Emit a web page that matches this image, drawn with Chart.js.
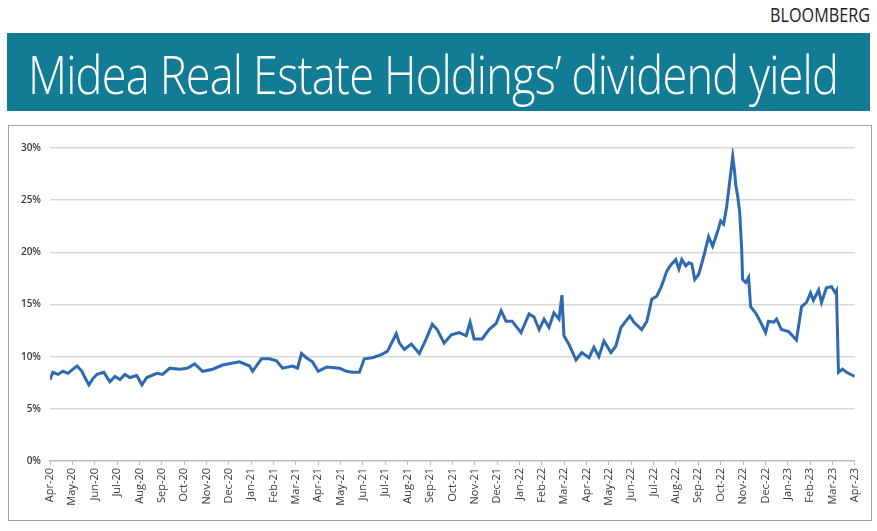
<!DOCTYPE html>
<html lang="en">
<head>
  <meta charset="UTF-8" />
  <title>Midea Real Estate Holdings' dividend yield</title>
  <script src="https://cdn.jsdelivr.net/npm/chart.js"></script>
  <style>
    body {
      margin: 0;
      width: 877px;
      height: 531px;
      background: #fff;
      position: relative;
      overflow: hidden;
      font-family: 'Open Sans', sans-serif;
    }

    .fit {
      position: absolute;
      white-space: nowrap;
      transform-origin: 0 0;
    }

    #source {
      top: 1px;
      left: 770px;
      font-size: 19.5px;
      color: #222;
    }

    #banner {
      position: absolute;
      left: 7px;
      top: 33px;
      width: 863px;
      height: 78px;
      background: #137c95;
    }

    #title {
      top: 36px;
      left: 28px;
      font-size: 54px;
      font-weight: 300;
      color: #fff;
      letter-spacing: -1px;
    }

    #box {
      position: absolute;
      left: 8px;
      top: 125px;
      width: 862px;
      height: 394px;
      border: 1.5px solid #a0a0a0;
    }
  </style>
</head>
<body>
  <div id="source" class="fit" data-w="100">BLOOMBERG</div>
  <div id="banner"></div>
  <div id="title" class="fit" data-w="810">Midea Real Estate Holdings’ dividend yield</div>

  <div id="box">
    <canvas id="yieldChart" width="862" height="394"></canvas>
  </div>

  <script>
    // tick labels, one per month starting Apr-20
    const monthLabels = [
      'Apr-20', 'May-20', 'Jun-20', 'Jul-20', 'Aug-20', 'Sep-20', 'Oct-20', 'Nov-20', 'Dec-20',
      'Jan-21', 'Feb-21', 'Mar-21', 'Apr-21', 'May-21', 'Jun-21', 'Jul-21', 'Aug-21', 'Sep-21',
      'Oct-21', 'Nov-21', 'Dec-21', 'Jan-22', 'Feb-22', 'Mar-22', 'Apr-22', 'May-22', 'Jun-22',
      'Jul-22', 'Aug-22', 'Sep-22', 'Oct-22', 'Nov-22', 'Dec-22', 'Jan-23', 'Feb-23', 'Mar-23', 'Apr-23'
    ];

    // time of each reading, in months since the start of Apr-20
    const yieldMonths = [
      0.00, 0.13, 0.36, 0.58, 0.80, 1.03, 1.21, 1.43, 1.56, 1.74, 1.92, 2.10, 2.41, 2.68, 2.90,
      3.13, 3.35, 3.57, 3.88, 4.11, 4.33, 4.78, 5.04, 5.36, 5.80, 6.16, 6.47, 6.83, 7.28, 7.72,
      8.48, 8.93, 9.06, 9.46, 9.82, 10.13, 10.40, 10.85, 11.07, 11.25, 11.47, 11.74, 12.00, 12.37,
      12.95, 13.26, 13.53, 13.84, 14.06, 14.42, 14.82, 15.09, 15.49, 15.63, 15.85, 16.16, 16.52,
      16.83, 17.10, 17.32, 17.63, 17.95, 18.30, 18.62, 18.79, 18.97, 19.33, 19.64, 19.96, 20.18,
      20.40, 20.67, 21.07, 21.43, 21.65, 21.88, 22.10, 22.32, 22.54, 22.77, 22.90, 22.99, 23.21,
      23.53, 23.79, 24.11, 24.33, 24.55, 24.78, 25.09, 25.31, 25.54, 25.76, 25.94, 26.12, 26.47,
      26.70, 26.92, 27.14, 27.32, 27.46, 27.59, 27.77, 27.99, 28.13, 28.26, 28.44, 28.57, 28.71,
      28.84, 29.02, 29.24, 29.46, 29.64, 29.82, 30.00, 30.13, 30.27, 30.36, 30.49, 30.54, 30.63,
      30.67, 30.76, 30.85, 30.94, 30.98, 31.12, 31.25, 31.34, 31.56, 31.79, 32.01, 32.14, 32.37,
      32.50, 32.72, 33.04, 33.39, 33.62, 33.84, 34.02, 34.15, 34.38, 34.51, 34.73, 34.96, 35.13,
      35.18, 35.27, 35.45, 35.63, 36.00
    ];

    // dividend yield, %
    const yieldPct = [
      7.8, 8.5, 8.3, 8.6, 8.4, 8.8, 9.1, 8.6, 8.0, 7.3, 7.9, 8.3, 8.5, 7.6, 8.1,
      7.8, 8.3, 8.0, 8.2, 7.3, 8.0, 8.4, 8.3, 8.9, 8.8, 8.9, 9.3, 8.6, 8.8, 9.2,
      9.5, 9.1, 8.6, 9.8, 9.8, 9.6, 8.9, 9.1, 8.9, 10.3, 9.9, 9.5, 8.6, 9.0,
      8.9, 8.6, 8.5, 8.5, 9.8, 9.9, 10.2, 10.5, 12.2, 11.3, 10.7, 11.2, 10.3,
      11.7, 13.1, 12.6, 11.3, 12.1, 12.3, 12.0, 13.3, 11.7, 11.7, 12.6, 13.2, 14.4,
      13.4, 13.4, 12.3, 14.1, 13.8, 12.6, 13.6, 12.8, 14.2, 13.6, 15.9, 12.0, 11.2,
      9.7, 10.4, 9.9, 10.9, 10.0, 11.5, 10.4, 11.0, 12.8, 13.4, 13.9, 13.3, 12.6,
      13.4, 15.5, 15.8, 16.6, 17.4, 18.2, 18.8, 19.3, 18.4, 19.3, 18.7, 19.0, 18.9,
      17.4, 17.9, 19.6, 21.5, 20.6, 21.7, 23.0, 22.7, 24.4, 26.0, 28.3, 29.2, 27.6,
      26.5, 25.4, 23.9, 20.3, 17.4, 17.1, 17.6, 14.8, 14.2, 13.3, 12.3, 13.4, 13.3,
      13.6, 12.6, 12.4, 11.6, 14.8, 15.2, 16.1, 15.4, 16.4, 15.2, 16.6, 16.7, 16.1,
      16.3, 8.5, 8.8, 8.5, 8.1
    ];

    const yTicks = [0, 5, 10, 15, 20, 25, 30];

    // squeeze the header texts to the widths they have in the print layout
    document.querySelectorAll('.fit').forEach(el => {
      const w = el.getBoundingClientRect().width;
      el.style.transform = 'scaleX(' + (Number(el.dataset.w) / w) + ')';
    });

    const points = yieldMonths.map((m, i) => ({ x: m, y: yieldPct[i] }));

    new Chart(document.getElementById('yieldChart'), {
      type: 'line',
      data: {
        datasets: [{
          data: points,
          borderColor: '#2f69b1',
          borderWidth: 3,
          pointRadius: 0,
          tension: 0,
          fill: false
        }]
      },
      options: {
        responsive: false,
        animation: false,
        layout: { padding: { top: 22, right: 13, left: 0, bottom: 0 } },
        plugins: {
          legend: { display: false },
          tooltip: { enabled: false }
        },
        scales: {
          x: {
            type: 'linear',
            min: 0,
            max: monthLabels.length - 1,
            afterBuildTicks: axis => {
              axis.ticks = monthLabels.map((_, i) => ({ value: i }));
            },
            afterFit: axis => { axis.height = 59; },
            ticks: {
              autoSkip: false,
              maxRotation: 90,
              minRotation: 90,
              padding: 3,
              color: '#3a3a3a',
              font: { family: 'Open Sans', size: 11 },
              callback: v => monthLabels[v]
            },
            grid: {
              drawOnChartArea: false,
              drawTicks: true,
              tickLength: 4,
              color: '#bdbdbd'
            },
            border: { color: '#bdbdbd', width: 1.5 }
          },
          y: {
            min: 0,
            max: 30,
            afterBuildTicks: axis => {
              axis.ticks = yTicks.map(v => ({ value: v }));
            },
            afterFit: axis => { axis.width = 41; },
            ticks: {
              padding: 9,
              color: '#3a3a3a',
              font: { family: 'Open Sans', size: 10, weight: '600' },
              callback: v => v + '%'
            },
            grid: {
              color: ctx => ctx.tick && ctx.tick.value === 0 ? 'rgba(0,0,0,0)' : '#d9d9d9',
              lineWidth: 1.5,
              drawTicks: false
            },
            border: { display: false }
          }
        }
      }
    });
  </script>
</body>
</html>
